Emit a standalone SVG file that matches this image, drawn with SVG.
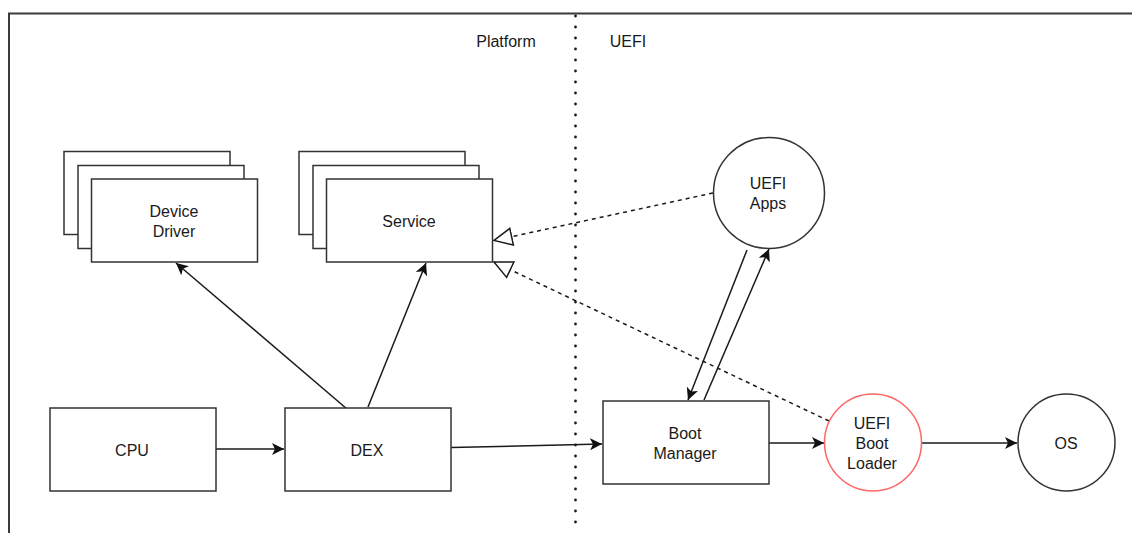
<svg xmlns="http://www.w3.org/2000/svg" width="1132" height="533" viewBox="0 0 1132 533">
  <style>
    .box { fill: #ffffff; stroke: #333333; stroke-width: 1.5; }
    .circ { fill: #ffffff; stroke: #333333; stroke-width: 1.5; }
    .red { stroke: #ff6666; }
    .lbl { font-family: "Liberation Sans", Arial, Helvetica, sans-serif; font-size: 16px; fill: #1a1a1a; text-anchor: middle; }
    .edge { fill: none; stroke: #1a1a1a; stroke-width: 1.5; }
    .dash { fill: none; stroke: #1a1a1a; stroke-width: 1.5; stroke-dasharray: 4 4; }
  </style>
  <defs>
    <marker id="arrow" viewBox="0 0 12 12" refX="12" refY="6" markerWidth="12" markerHeight="12" markerUnits="userSpaceOnUse" orient="auto">
      <path d="M0,0 L12,6 L0,12 L3,6 Z" fill="#111111"/>
    </marker>
    <marker id="open" viewBox="0 0 20 20" refX="19" refY="10" markerWidth="20" markerHeight="20" markerUnits="userSpaceOnUse" orient="auto">
      <path d="M1,1.5 L19,10 L1,18.5 Z" fill="#ffffff" stroke="#1a1a1a" stroke-width="1.5" stroke-linejoin="miter"/>
    </marker>
  </defs>

  <rect width="1132" height="533" fill="#ffffff"/>

  <!-- frame -->
  <path d="M9,534 V13.5 H1133" fill="none" stroke="#3a3a3a" stroke-width="2"/>

  <!-- platform / UEFI divider -->
  <line x1="575.5" y1="16" x2="575.5" y2="533" stroke="#1a1a1a" stroke-width="2.8" stroke-linecap="round" stroke-dasharray="0 11"/>
  <text class="lbl" x="506" y="47">Platform</text>
  <text class="lbl" x="628" y="47">UEFI</text>

  <!-- connectors -->
  <g id="connectors">
    <line class="edge" x1="216" y1="449" x2="284" y2="449" marker-end="url(#arrow)"/>
    <line class="edge" x1="451" y1="447.5" x2="602" y2="444" marker-end="url(#arrow)"/>
    <line class="edge" x1="347" y1="409" x2="176" y2="263" marker-end="url(#arrow)"/>
    <line class="edge" x1="368" y1="407" x2="426" y2="263" marker-end="url(#arrow)"/>
    <line class="edge" x1="747" y1="250" x2="688" y2="400" marker-end="url(#arrow)"/>
    <line class="edge" x1="704" y1="400" x2="769" y2="249" marker-end="url(#arrow)"/>
    <line class="edge" x1="769" y1="443" x2="824" y2="443" marker-end="url(#arrow)"/>
    <line class="edge" x1="921" y1="443" x2="1017" y2="443" marker-end="url(#arrow)"/>
    <line class="dash" x1="713" y1="193" x2="494" y2="240.5" marker-end="url(#open)"/>
    <line class="dash" x1="829" y1="421" x2="494" y2="262" marker-end="url(#open)"/>
  </g>

  <g id="device-driver">
    <rect class="box" x="64" y="151.5" width="166" height="83"/>
    <rect class="box" x="78" y="165.5" width="166" height="83"/>
    <rect class="box" x="91.5" y="179" width="166" height="83"/>
    <text class="lbl" x="174" y="217">Device</text>
    <text class="lbl" x="174" y="237">Driver</text>
  </g>

  <g id="service">
    <rect class="box" x="299" y="151.5" width="166" height="83"/>
    <rect class="box" x="313" y="165.5" width="166" height="83"/>
    <rect class="box" x="326.5" y="179" width="166" height="83"/>
    <text class="lbl" x="409" y="227">Service</text>
  </g>

  <g id="uefi-apps">
    <circle class="circ" cx="769" cy="193" r="55.5"/>
    <text class="lbl" x="768" y="189">UEFI</text>
    <text class="lbl" x="768" y="209">Apps</text>
  </g>

  <g id="cpu">
    <rect class="box" x="50" y="408" width="166" height="83"/>
    <text class="lbl" x="132" y="456">CPU</text>
  </g>

  <g id="dex">
    <rect class="box" x="285" y="408" width="166" height="83"/>
    <text class="lbl" x="367" y="456">DEX</text>
  </g>

  <g id="boot-manager">
    <rect class="box" x="603" y="401" width="166" height="83"/>
    <text class="lbl" x="685" y="439">Boot</text>
    <text class="lbl" x="685" y="459">Manager</text>
  </g>

  <g id="uefi-boot-loader">
    <circle class="circ red" cx="873" cy="442.5" r="48.5"/>
    <text class="lbl" x="872" y="429">UEFI</text>
    <text class="lbl" x="872" y="449">Boot</text>
    <text class="lbl" x="872" y="469">Loader</text>
  </g>

  <g id="os">
    <circle class="circ" cx="1066.5" cy="442.5" r="48.5"/>
    <text class="lbl" x="1066" y="448.5">OS</text>
  </g>
</svg>
